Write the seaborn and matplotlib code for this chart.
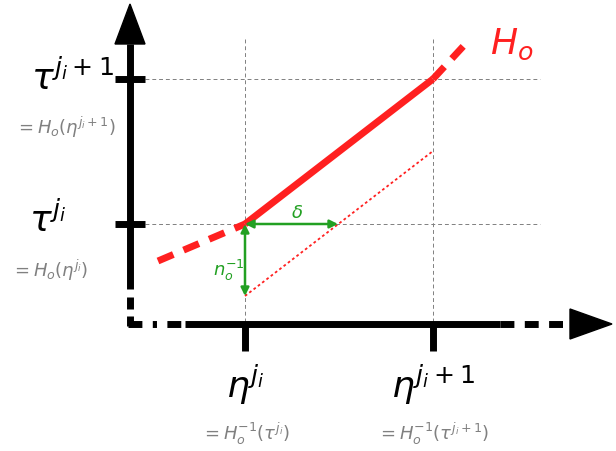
import matplotlib
matplotlib.use("Agg")
import matplotlib.pyplot as plt
import seaborn as sns

sns.set_style("white")
plt.rcParams['font.family'] = ['Open Sans', 'DejaVu Sans']
plt.rcParams['text.color'] = 'black'

# diagram geometry in pixel units
eta = [245, 433]
tau = [225, 80]
ext_lo = (158, 262)
ext_hi = (470, 40)
shift_y = 72
delta_x = 338

fig = plt.figure(figsize=(6.16, 4.52), dpi=100)
ax = fig.add_axes([0, 0, 1, 1])
ax.set_xlim(0, 616)
ax.set_ylim(452, 0)
ax.axis("off")

# grid guides
for t in tau:
    ax.plot([145, 540], [t, t], color="gray", lw=0.7, ls=(0, (4, 3)))
for e in eta:
    ax.plot([e, e], [40, 325], color="gray", lw=0.7, ls=(0, (4, 3)))

# axes
ax.plot([130, 130], [45, 290], color="black", lw=5, solid_capstyle="butt")
ax.plot([130, 130], [298, 310], color="black", lw=5, solid_capstyle="butt")
ax.plot([130, 130], [317, 327], color="black", lw=5, solid_capstyle="butt")
ax.fill([115, 145, 130], [45, 45, 5], color="black")
ax.plot([128, 185], [325, 325], color="black", lw=5, ls=(0, (2, 1.5, 0.6, 1.5)))
ax.plot([185, 500], [325, 325], color="black", lw=5, solid_capstyle="butt")
ax.plot([500, 570], [325, 325], color="black", lw=5, ls=(0, (2, 1.5)))
ax.fill([570, 570, 612], [310, 340, 325], color="black")

# ticks
for t in tau:
    ax.plot([115, 145], [t, t], color="black", lw=5, solid_capstyle="butt")
for e in eta:
    ax.plot([e, e], [325, 352], color="black", lw=5, solid_capstyle="butt")

# H0 curve
ax.plot(eta, tau, color="#ff2020", lw=5, solid_capstyle="butt")
ax.plot([ext_lo[0], eta[0]], [ext_lo[1], tau[0]], color="#ff2020", lw=5, ls=(0, (2.4, 1.6)))
ax.plot([eta[1], ext_hi[0]], [tau[1], ext_hi[1]], color="#ff2020", lw=5, ls=(0, (2.4, 1.6)))
ax.plot(eta, [t + shift_y for t in tau], color="#ff2020", lw=1.3, ls=(0, (1.5, 1.5)))

# green arrows
g = "#22a022"
ax.annotate("", xy=(delta_x, tau[0]), xytext=(eta[0], tau[0]),
            arrowprops=dict(arrowstyle="<|-|>", color=g, lw=1.8, mutation_scale=12, shrinkA=0, shrinkB=0))
ax.annotate("", xy=(eta[0], tau[0] + shift_y), xytext=(eta[0], tau[0]),
            arrowprops=dict(arrowstyle="<|-|>", color=g, lw=1.8, mutation_scale=12, shrinkA=0, shrinkB=0))
ax.text(297, 213, r"$\delta$", color=g, fontsize=13, ha="center", va="center")
ax.text(229, 270, r"$n_o^{-1}$", color=g, fontsize=13, ha="center", va="center")

# labels
ax.text(512, 45, r"$H_o$", color="#ff2020", fontsize=26, ha="center", va="center")
ax.text(72, 80, r"$\tau^{j_i+1}$", fontsize=26, ha="center", va="center")
ax.text(65, 127, r"$= H_o(\eta^{j_i+1})$", color="gray", fontsize=13, ha="center", va="center")
ax.text(48, 222, r"$\tau^{j_i}$", fontsize=26, ha="center", va="center")
ax.text(50, 270, r"$= H_o(\eta^{j_i})$", color="gray", fontsize=13, ha="center", va="center")
ax.text(eta[0], 385, r"$\eta^{j_i}$", fontsize=26, ha="center", va="center")
ax.text(eta[0], 434, r"$= H_o^{-1}(\tau^{j_i})$", color="gray", fontsize=13, ha="center", va="center")
ax.text(eta[1], 385, r"$\eta^{j_i+1}$", fontsize=26, ha="center", va="center")
ax.text(eta[1], 434, r"$= H_o^{-1}(\tau^{j_i+1})$", color="gray", fontsize=13, ha="center", va="center")

fig.savefig("out.png", dpi=100)
